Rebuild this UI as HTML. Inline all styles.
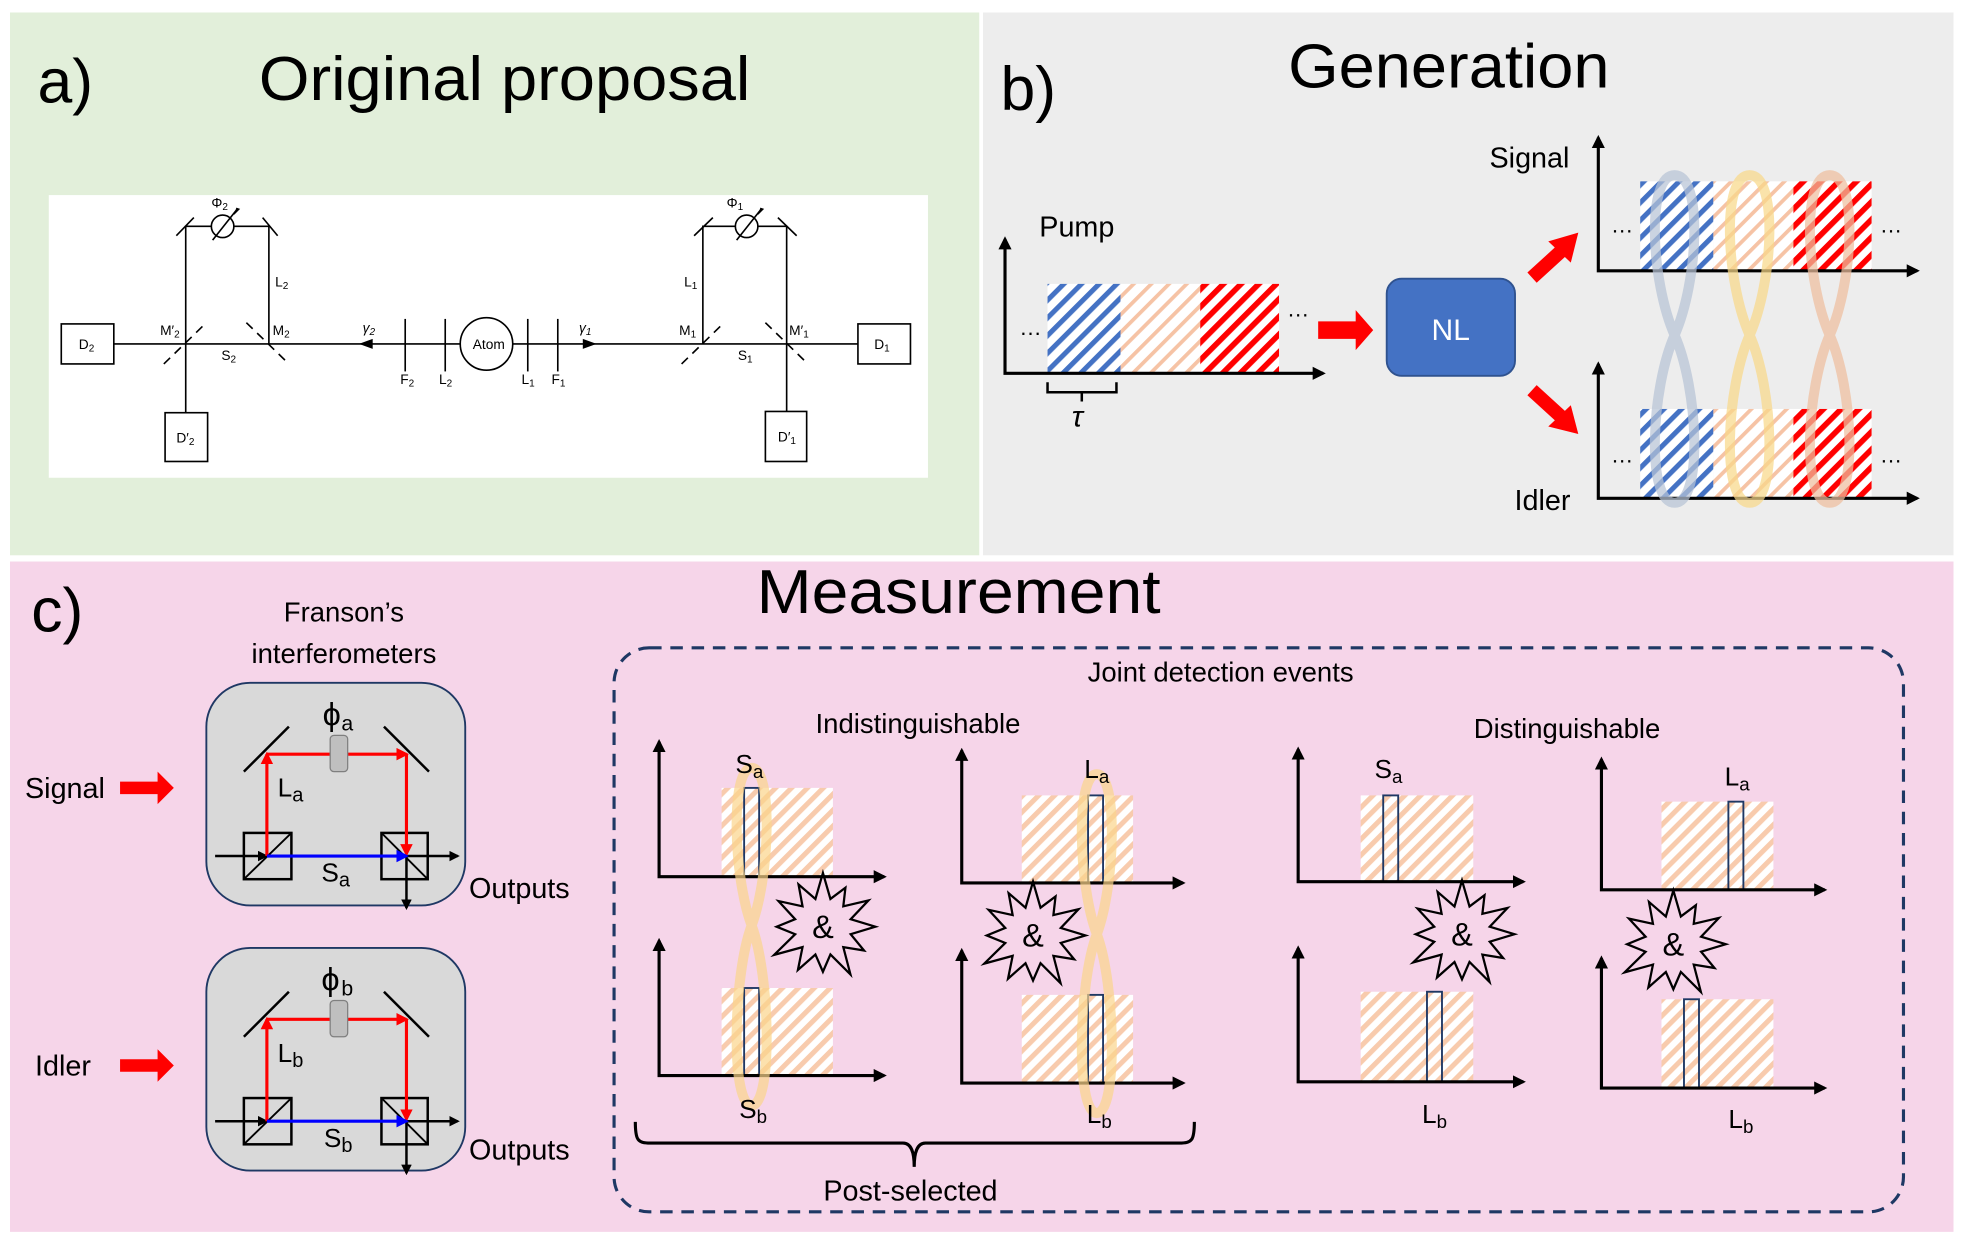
<!DOCTYPE html>
<html><head><meta charset="utf-8"><style>
html,body{margin:0;padding:0;background:#fff;}
svg{display:block;}
text{font-family:"Liberation Sans",sans-serif;fill:#000;}
</style></head><body>
<svg width="1961" height="1240" viewBox="0 0 1568 991.5" preserveAspectRatio="none" xmlns="http://www.w3.org/2000/svg">
<defs>
<pattern id="hp" width="9" height="9" patternUnits="userSpaceOnUse" patternTransform="rotate(45)"><rect width="9" height="9" fill="#fff"/><rect width="4" height="9" fill="#f8cbad"/></pattern>
<pattern id="hpl" width="10" height="10" patternUnits="userSpaceOnUse" patternTransform="rotate(45)"><rect width="10" height="10" fill="#fff"/><rect width="3" height="10" fill="#f6c3a5"/></pattern>
<pattern id="hb" width="10" height="10" patternUnits="userSpaceOnUse" patternTransform="rotate(45)"><rect width="10" height="10" fill="#fff"/><rect width="4" height="10" fill="#4472c4"/></pattern>
<pattern id="hr" width="10" height="10" patternUnits="userSpaceOnUse" patternTransform="rotate(45)"><rect width="10" height="10" fill="#fff"/><rect width="4.5" height="10" fill="#ff0000"/></pattern>
<marker id="a" viewBox="0 0 10 10" refX="8" refY="5" markerWidth="4.2" markerHeight="4.2" orient="auto-start-reverse"><path d="M0,0L10,5L0,10z" fill="#000"/></marker>
<marker id="ar" viewBox="0 0 10 10" refX="8" refY="5" markerWidth="4" markerHeight="4" orient="auto"><path d="M0,0L10,5L0,10z" fill="#f00"/></marker>
<marker id="ab" viewBox="0 0 10 10" refX="8" refY="5" markerWidth="4" markerHeight="4" orient="auto"><path d="M0,0L10,5L0,10z" fill="#00f"/></marker>
<g id="star"><polygon points="42,0 22.2,6 32.9,19 16.3,16.3 22,38.1 6,22.2 0,36 -6,22.2 -20,34.6 -16.3,16.3 -39,22.5 -22.2,6 -37,0 -22.2,-6 -35.5,-20.5 -16.3,-16.3 -19.5,-33.8 -6,-22.2 0,-43 6,-22.2 18,-31.2 16.3,-16.3 36.4,-21 22.2,-6" fill="none" stroke="#000" stroke-width="1.8"/></g>
<g id="intf">
<rect x="165" y="546" width="207" height="178" rx="35" fill="#d9d9d9" stroke="#1f3864" stroke-width="1.5"/>
<line x1="195" y1="617" x2="231" y2="581" stroke="#000" stroke-width="2"/>
<line x1="307" y1="581" x2="343" y2="617" stroke="#000" stroke-width="2"/>
<rect x="195" y="666" width="38" height="37" fill="none" stroke="#000" stroke-width="2"/>
<line x1="195" y1="703" x2="233" y2="666" stroke="#000" stroke-width="1.5"/>
<rect x="305" y="666" width="37" height="37" fill="none" stroke="#000" stroke-width="2"/>
<line x1="305" y1="666" x2="342" y2="703" stroke="#000" stroke-width="1.5"/>
<line x1="172" y1="684.5" x2="213" y2="684.5" stroke="#000" stroke-width="2" marker-end="url(#a)"/>
<line x1="325" y1="684.5" x2="366" y2="684.5" stroke="#000" stroke-width="2" marker-end="url(#a)"/>
<line x1="325" y1="684.5" x2="325" y2="726" stroke="#000" stroke-width="2" marker-end="url(#a)"/>
<line x1="213.4" y1="684.5" x2="213.4" y2="603" stroke="#f00" stroke-width="2.5" marker-end="url(#ar)"/>
<line x1="213.4" y1="603" x2="325" y2="603" stroke="#f00" stroke-width="2.5" marker-end="url(#ar)"/>
<line x1="325" y1="603" x2="325" y2="683" stroke="#f00" stroke-width="2.5" marker-end="url(#ar)"/>
<line x1="213.4" y1="684.5" x2="325" y2="684.5" stroke="#00f" stroke-width="2.5" marker-end="url(#ab)"/>
<rect x="264" y="588" width="14" height="29" rx="3" fill="#bfbfbf" stroke="#7f7f7f" stroke-width="1"/>
</g>
</defs>

<rect x="8" y="10" width="775" height="434" fill="#e2efda"/>
<rect x="786" y="10" width="776" height="434" fill="#ededed"/>
<rect x="8" y="449" width="1554" height="536" fill="#f6d5e9"/>

<!-- Panel a -->
<text x="30" y="82" font-size="50">a)</text>
<text x="207" y="80" font-size="50" textLength="393" lengthAdjust="spacingAndGlyphs">Original proposal</text>
<rect x="39" y="156" width="703" height="226" fill="#fff"/>
<g stroke="#000" stroke-width="1.3" fill="none">
<line x1="91" y1="275" x2="686" y2="275"/>
<rect x="49" y="259" width="42" height="32" fill="#fff"/>
<rect x="686" y="259" width="42" height="32" fill="#fff"/>
<rect x="132" y="330" width="34" height="39" fill="#fff"/>
<rect x="612" y="329" width="33" height="40" fill="#fff"/>
<polyline points="148.5,330 148.5,181 215,181 215,275"/>
<polyline points="629,329 629,181 562,181 562,275"/>
<line x1="141" y1="188.5" x2="155" y2="174"/><line x1="210" y1="174" x2="222" y2="188.5"/>
<line x1="555" y1="188.5" x2="570" y2="174"/><line x1="622" y1="174" x2="637" y2="188.5"/>
<line x1="131" y1="291" x2="165" y2="258" stroke-dasharray="7,5"/>
<line x1="197" y1="258" x2="231" y2="291" stroke-dasharray="7,5"/>
<line x1="545" y1="291" x2="579" y2="258" stroke-dasharray="7,5"/>
<line x1="612" y1="258" x2="646" y2="291" stroke-dasharray="7,5"/>
<circle cx="178" cy="181" r="9" fill="#fff"/><circle cx="597" cy="181" r="9" fill="#fff"/>
<line x1="170" y1="192" x2="189" y2="168"/><line x1="589" y1="192" x2="608" y2="168"/>
<line x1="324" y1="255" x2="324" y2="297"/><line x1="356" y1="255" x2="356" y2="297"/>
<line x1="422" y1="255" x2="422" y2="297"/><line x1="446" y1="255" x2="446" y2="297"/>
<circle cx="389" cy="275" r="21" fill="#fff"/>
</g>
<polygon points="189,166 192,167 187,172" fill="#000"/><polygon points="608,166 611,167 606,172" fill="#000"/>
<polygon points="287,275 298,271 298,279" fill="#000"/><polygon points="477,275 466,271 466,279" fill="#000"/>
<g font-size="11">
<text x="378" y="279">Atom</text>
<text x="63" y="279">D<tspan font-size="8" dy="2">2</tspan></text>
<text x="699" y="279">D<tspan font-size="8" dy="2">1</tspan></text>
<text x="141" y="354">D′<tspan font-size="8" dy="2">2</tspan></text>
<text x="622" y="353">D′<tspan font-size="8" dy="2">1</tspan></text>
<text x="128" y="268">M′<tspan font-size="8" dy="2">2</tspan></text>
<text x="218" y="268">M<tspan font-size="8" dy="2">2</tspan></text>
<text x="543" y="268">M<tspan font-size="8" dy="2">1</tspan></text>
<text x="631" y="268">M′<tspan font-size="8" dy="2">1</tspan></text>
<text x="177" y="288">S<tspan font-size="8" dy="2">2</tspan></text>
<text x="590" y="288">S<tspan font-size="8" dy="2">1</tspan></text>
<text x="220" y="229">L<tspan font-size="8" dy="2">2</tspan></text>
<text x="547" y="229">L<tspan font-size="8" dy="2">1</tspan></text>
<text x="169" y="166">Φ<tspan font-size="8" dy="2">2</tspan></text>
<text x="581" y="166">Φ<tspan font-size="8" dy="2">1</tspan></text>
<text x="290" y="266" font-style="italic">γ<tspan font-size="8" dy="2">2</tspan></text>
<text x="463" y="266" font-style="italic">γ<tspan font-size="8" dy="2">1</tspan></text>
<text x="320" y="307">F<tspan font-size="8" dy="2">2</tspan></text>
<text x="351" y="307">L<tspan font-size="8" dy="2">2</tspan></text>
<text x="417" y="307">L<tspan font-size="8" dy="2">1</tspan></text>
<text x="441" y="307">F<tspan font-size="8" dy="2">1</tspan></text>
</g>

<!-- Panel b -->
<text x="800" y="88" font-size="50">b)</text>
<text x="1030" y="70" font-size="50" textLength="257" lengthAdjust="spacingAndGlyphs">Generation</text>
<text x="831" y="189" font-size="23">Pump</text>
<rect x="837.6" y="227" width="58.4" height="71" fill="url(#hb)"/>
<rect x="896" y="227" width="63.7" height="71" fill="url(#hpl)"/>
<rect x="959.7" y="227" width="63" height="71" fill="url(#hr)"/>
<path d="M803.6,191 L803.6,298.5 L1058,298.5" fill="none" stroke="#000" stroke-width="2.5" marker-start="url(#a)" marker-end="url(#a)"/>
<text x="815" y="268" font-size="18">…</text><text x="1029" y="253" font-size="18">…</text>
<path d="M837.6,305.6 L837.6,313.6 L892.7,313.6 L892.7,305.6 M865,313.6 L865,321" fill="none" stroke="#000" stroke-width="2"/>
<text x="857" y="341" font-size="24" font-style="italic" font-family="Liberation Serif">τ</text>
<polygon points="1054,257 1084,257 1084,248 1098,264 1084,280 1084,271 1054,271" fill="#f00"/>
<rect x="1108.8" y="222.8" width="102.6" height="77.7" rx="12" fill="#4472c4" stroke="#2f528f" stroke-width="1.5"/>
<text x="1160" y="272" font-size="24" text-anchor="middle" style="fill:#fff">NL</text>
<line x1="1225" y1="222" x2="1248" y2="201" stroke="#f00" stroke-width="11"/>
<polygon points="1238,193 1262,186 1256,210" fill="#f00"/>
<line x1="1225" y1="312" x2="1248" y2="333" stroke="#f00" stroke-width="11"/>
<polygon points="1238,341 1262,347 1256,324" fill="#f00"/>
<text x="1191" y="134" font-size="23">Signal</text>
<text x="1211" y="408" font-size="23">Idler</text>
<rect x="1311.5" y="145" width="58.5" height="71" fill="url(#hb)"/>
<rect x="1370" y="145" width="64" height="71" fill="url(#hpl)"/>
<rect x="1434" y="145" width="62.5" height="71" fill="url(#hr)"/>
<rect x="1311.5" y="327" width="58.5" height="71" fill="url(#hb)"/>
<rect x="1370" y="327" width="64" height="71" fill="url(#hpl)"/>
<rect x="1434" y="327" width="62.5" height="71" fill="url(#hr)"/>
<path d="M1278,110 L1278,216.5 L1533,216.5" fill="none" stroke="#000" stroke-width="2.5" marker-start="url(#a)" marker-end="url(#a)"/>
<path d="M1278,291 L1278,398.4 L1533,398.4" fill="none" stroke="#000" stroke-width="2.5" marker-start="url(#a)" marker-end="url(#a)"/>
<text x="1288" y="186" font-size="18">…</text><text x="1503" y="186" font-size="18">…</text>
<text x="1288" y="370" font-size="18">…</text><text x="1503" y="370" font-size="18">…</text>
<g fill="none" stroke-width="8" opacity="0.72">
<path d="M1339,140 C1316,140 1320,225 1339,268 C1358,311 1362,402 1339,402 C1316,402 1320,311 1339,268 C1358,225 1362,140 1339,140Z" stroke="#b8c4d6"/>
<path d="M1399,140 C1376,140 1380,225 1399,268 C1418,311 1422,402 1399,402 C1376,402 1380,311 1399,268 C1418,225 1422,140 1399,140Z" stroke="#f9d98a"/>
<path d="M1463,140 C1440,140 1444,225 1463,268 C1482,311 1486,402 1463,402 C1440,402 1444,311 1463,268 C1482,225 1486,140 1463,140Z" stroke="#efbf9f"/>
</g>

<!-- Panel c -->
<text x="25" y="505" font-size="50">c)</text>
<text x="605" y="490" font-size="50" textLength="323" lengthAdjust="spacingAndGlyphs">Measurement</text>
<text x="275" y="497" font-size="22" text-anchor="middle">Franson’s</text>
<text x="275" y="530" font-size="22" text-anchor="middle">interferometers</text>
<use href="#intf"/>
<use href="#intf" transform="translate(0,212)"/>
<g font-size="26" font-family="Liberation Serif"><text x="258" y="580">ϕ</text><text x="257" y="792">ϕ</text></g>
<g font-size="21">
<text x="273" y="584" font-size="17">a</text><text x="273" y="796" font-size="17">b</text>
<text x="222" y="637">L<tspan font-size="16" dy="4">a</tspan></text>
<text x="222" y="849">L<tspan font-size="16" dy="4">b</tspan></text>
<text x="257" y="705">S<tspan font-size="16" dy="4">a</tspan></text>
<text x="259" y="917">S<tspan font-size="16" dy="4">b</tspan></text>
<text x="375" y="718" font-size="23">Outputs</text>
<text x="375" y="927" font-size="23">Outputs</text>
<text x="20" y="638" font-size="23">Signal</text>
<text x="28" y="860" font-size="23">Idler</text>
</g>
<polygon points="96,625 126,625 126,617 139,630 126,643 126,635 96,635" fill="#f00"/>
<polygon points="96,847 126,847 126,839 139,852 126,865 126,857 96,857" fill="#f00"/>

<rect x="491" y="518" width="1031" height="451" rx="28" fill="none" stroke="#1f3864" stroke-width="2.5" stroke-dasharray="10,7"/>
<text x="976" y="545" font-size="22" text-anchor="middle">Joint detection events</text>
<text x="734" y="586" font-size="22" text-anchor="middle">Indistinguishable</text>
<text x="1253" y="590" font-size="22" text-anchor="middle">Distinguishable</text>

<g>
<rect x="577" y="630" width="89" height="71" fill="url(#hp)"/>
<rect x="577" y="790" width="89" height="70" fill="url(#hp)"/>
<rect x="817" y="636" width="89" height="70" fill="url(#hp)"/>
<rect x="817" y="795.5" width="89" height="70.5" fill="url(#hp)"/>
<rect x="1088" y="636" width="90" height="69" fill="url(#hp)"/>
<rect x="1088" y="793" width="90" height="72" fill="url(#hp)"/>
<rect x="1328.5" y="641" width="89.5" height="70.5" fill="url(#hp)"/>
<rect x="1328.5" y="799" width="89.5" height="71" fill="url(#hp)"/>
</g>
<g fill="none" stroke="#1f3864" stroke-width="1.5">
<rect x="595" y="630" width="12" height="71"/><rect x="595" y="790" width="12" height="70"/>
<rect x="870" y="636" width="12" height="70"/><rect x="870" y="795.5" width="12" height="70.5"/>
<rect x="1106" y="636" width="12" height="69"/><rect x="1141" y="793" width="12" height="72"/>
<rect x="1382" y="641" width="12" height="70.5"/><rect x="1346.5" y="799" width="12" height="71"/>
</g>
<g fill="none" stroke="#000" stroke-width="2.5">
<path d="M527,593 L527,701 L707,701" marker-start="url(#a)" marker-end="url(#a)"/>
<path d="M527,752 L527,860 L707,860" marker-start="url(#a)" marker-end="url(#a)"/>
<path d="M769,600 L769,706 L946,706" marker-start="url(#a)" marker-end="url(#a)"/>
<path d="M769,760 L769,866 L946,866" marker-start="url(#a)" marker-end="url(#a)"/>
<path d="M1038,599 L1038,705 L1218,705" marker-start="url(#a)" marker-end="url(#a)"/>
<path d="M1038,758 L1038,865 L1218,865" marker-start="url(#a)" marker-end="url(#a)"/>
<path d="M1280.5,607 L1280.5,711.5 L1459,711.5" marker-start="url(#a)" marker-end="url(#a)"/>
<path d="M1280.5,766 L1280.5,870 L1459,870" marker-start="url(#a)" marker-end="url(#a)"/>
</g>
<g fill="none" stroke-width="8" opacity="0.7" stroke="#fbd48a">
<path d="M601,614 C584,614 586,700 601,740 C616,780 618,884 601,884 C584,884 586,780 601,740 C616,700 618,614 601,614Z"/>
<path d="M877,619 C860,619 862,707 877,747 C892,787 894,890 877,890 C860,890 862,787 877,747 C892,707 894,619 877,619Z"/>
</g>
<use href="#star" transform="translate(658,741)"/>
<use href="#star" transform="translate(826,748)"/>
<use href="#star" transform="translate(1169,747)"/>
<use href="#star" transform="translate(1338,755)"/>
<g font-size="26" text-anchor="middle">
<text x="658" y="750">&amp;</text><text x="826" y="757">&amp;</text>
<text x="1169" y="756">&amp;</text><text x="1338" y="764">&amp;</text>
</g>
<g font-size="21">
<text x="588" y="618">S<tspan font-size="15" dy="4">a</tspan></text>
<text x="591" y="894">S<tspan font-size="15" dy="4">b</tspan></text>
<text x="867" y="622">L<tspan font-size="15" dy="4">a</tspan></text>
<text x="869" y="898">L<tspan font-size="15" dy="4">b</tspan></text>
<text x="1099" y="622">S<tspan font-size="15" dy="4">a</tspan></text>
<text x="1137" y="898">L<tspan font-size="15" dy="4">b</tspan></text>
<text x="1379" y="628">L<tspan font-size="15" dy="4">a</tspan></text>
<text x="1382" y="902">L<tspan font-size="15" dy="4">b</tspan></text>
</g>
<path d="M508,897 C508,912 510,914 520,914 L722,914 C729,914 731,922 731,933 C731,922 733,914 740,914 L943,914 C953,914 955,912 955,897" fill="none" stroke="#000" stroke-width="2.5"/>
<text x="728" y="960" font-size="23" text-anchor="middle">Post-selected</text>
</svg>
</body></html>
